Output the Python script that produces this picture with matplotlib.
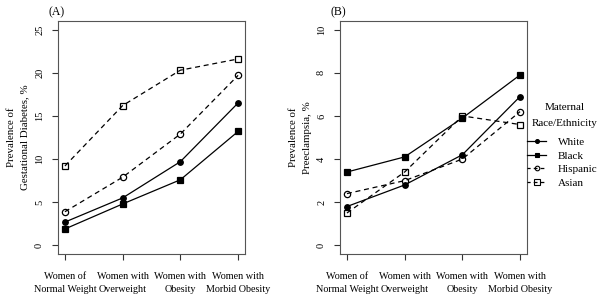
import numpy as np
import matplotlib
matplotlib.use('Agg')
import matplotlib.pyplot as plt
from matplotlib.lines import Line2D

plt.rcParams['font.family'] = ['Liberation Serif', 'DejaVu Serif']

categories = ['Women of\nNormal Weight', 'Women with\nOverweight',
              'Women with\nObesity', 'Women with\nMorbid Obesity']
groups = ['White', 'Black', 'Hispanic', 'Asian']

# (A) gestational diabetes, %
gdm_white = [2.7, 5.5, 9.7, 16.5]
gdm_black = [1.9, 4.8, 7.6, 13.2]
gdm_hispanic = [3.9, 7.9, 12.9, 19.7]
gdm_asian = [9.2, 16.2, 20.3, 21.6]

# (B) preeclampsia, %
pe_white = [1.8, 2.8, 4.2, 6.9]
pe_black = [3.4, 4.1, 5.9, 7.9]
pe_hispanic = [2.4, 3.0, 4.0, 6.2]
pe_asian = [1.5, 3.4, 6.0, 5.6]

styles = {
    'White': dict(ls='-', marker='o', mfc='black', ms=4),
    'Black': dict(ls='-', marker='s', mfc='black', ms=4.5),
    'Hispanic': dict(ls=(0, (4, 3)), marker='o', mfc='none', ms=4.5),
    'Asian': dict(ls=(0, (4, 3)), marker='s', mfc='none', ms=5),
}

W, H = 600, 296
fig = plt.figure(figsize=(6, 2.96), dpi=100)


def make_axes(left_px):
    return fig.add_axes([left_px / W, (H - 254) / H, 187 / W, 233 / H])


def draw_panel(ax, series, ymax, yticks, title, ylabel):
    x = np.arange(1, 5)
    for name, vals in zip(groups, series):
        st = styles[name]
        ax.plot(x, vals, color='black', lw=0.9, ls=st['ls'], marker=st['marker'],
                mfc=st['mfc'], mec='black', mew=0.9, ms=st['ms'])
    ax.set_xlim(0.88, 4.12)
    ax.set_ylim(-0.04 * ymax, 1.04 * ymax)
    ax.set_xticks(x)
    ax.set_xticklabels(categories, fontsize=7.3, linespacing=1.5)
    ax.set_yticks(yticks)
    ax.set_yticklabels([str(t) for t in yticks], fontsize=7.5, rotation=90, va='center')
    ax.tick_params(direction='out', length=4, width=0.8, color='#333333')
    ax.tick_params(axis='x', pad=9)
    ax.tick_params(axis='y', pad=6)
    for s in ax.spines.values():
        s.set_linewidth(0.8)
        s.set_color('#555555')
    ax.set_title(title, fontsize=8.5, loc='left', x=-0.05, y=1.0, pad=4)
    ax.set_ylabel(ylabel, fontsize=7.8, linespacing=1.6, labelpad=4)


ax1 = make_axes(58)
draw_panel(ax1, [gdm_white, gdm_black, gdm_hispanic, gdm_asian], 25,
           [0, 5, 10, 15, 20, 25], '(A)', 'Prevalence of\nGestational Diabetes, %')

ax2 = make_axes(340)
draw_panel(ax2, [pe_white, pe_black, pe_hispanic, pe_asian], 10,
           [0, 2, 4, 6, 8, 10], '(B)', 'Prevalence of\nPreeclampsia, %')

# legend title drawn separately so it can be centred independently
fig.text(565 / W, 1 - 107 / H, 'Maternal', fontsize=8, ha='center', va='center')
fig.text(565 / W, 1 - 123 / H, 'Race/Ethnicity', fontsize=8, ha='center', va='center')

handles = []
for name in groups:
    st = styles[name]
    ls = st['ls'] if st['ls'] == '-' else (0.5, (3, 2.5))
    handles.append(Line2D([], [], color='black', lw=0.9, ls=ls, marker=st['marker'],
                          mfc=st['mfc'], mec='black', mew=0.8, ms=st['ms'] - 1.2))
leg = fig.legend(handles, groups, loc='upper left', bbox_to_anchor=(527 / W, 1 - 137 / H),
                 frameon=False, fontsize=8, handlelength=1.75, handletextpad=1.0,
                 labelspacing=0.36, borderaxespad=0, borderpad=0)

fig.savefig('out.png', dpi=100)
